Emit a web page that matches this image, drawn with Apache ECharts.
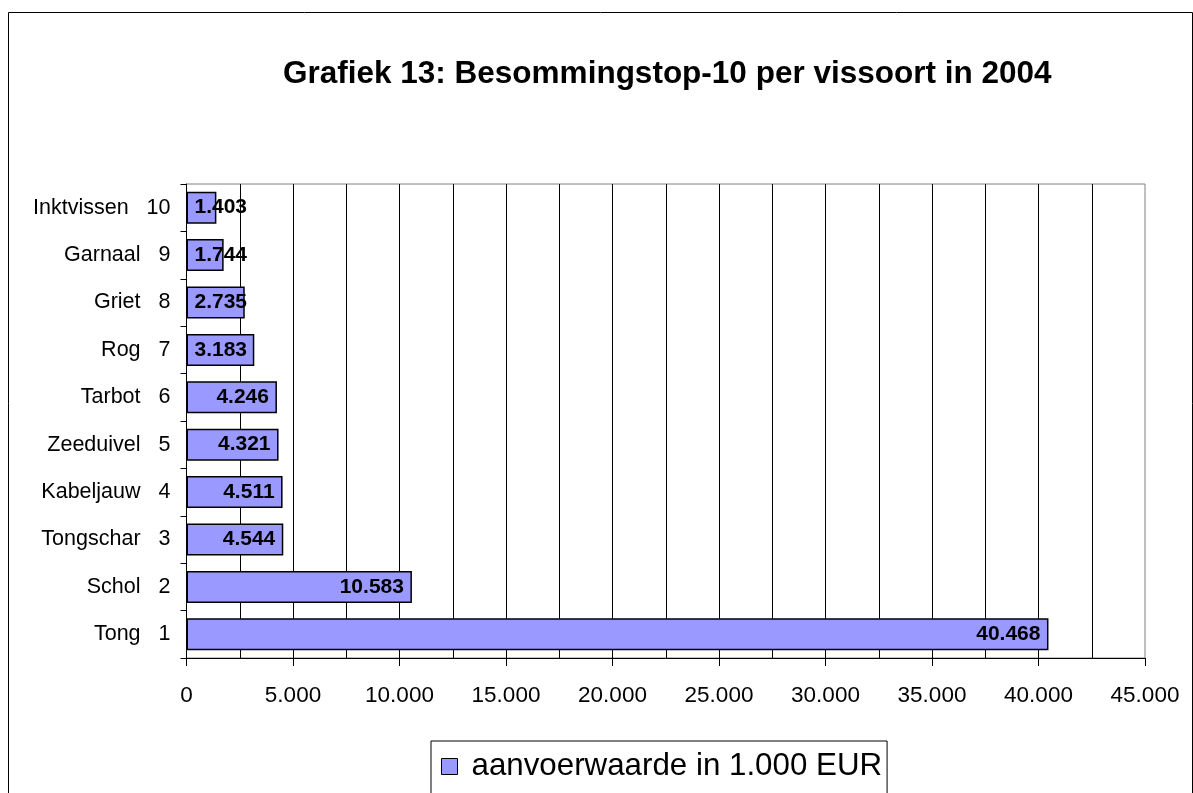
<!DOCTYPE html>
<html>
<head>
<meta charset="utf-8">
<script src="https://cdn.jsdelivr.net/npm/echarts@6/dist/echarts.min.js"></script>
<style>
  html, body { margin: 0; padding: 0; background: #fff; }
  #chart { width: 1193px; height: 793px; }
</style>
</head>
<body>
<div id="chart"></div>
<script>
// rang 1 onderaan, 10 bovenaan
const vissoorten = ['Tong', 'Schol', 'Tongschar', 'Kabeljauw', 'Zeeduivel', 'Tarbot', 'Rog', 'Griet', 'Garnaal', 'Inktvissen']
const rangen = ['1', '2', '3', '4', '5', '6', '7', '8', '9', '10']
const aanvoerwaarde = [40468, 10583, 4544, 4511, 4321, 4246, 3183, 2735, 1744, 1403]

const FONT = "'Liberation Sans', Arial, sans-serif"

// 40468 -> 40.468
function fmt(v) {
  return String(v).replace(/\B(?=(\d{3})+(?!\d))/g, '.')
}

let chart = echarts.init(document.getElementById('chart'), null, { renderer: 'canvas' })

let option = {
  animation: false,
  backgroundColor: '#fff',
  textStyle: { fontFamily: FONT },
  title: {
    text: 'Grafiek 13: Besommingstop-10 per vissoort in 2004',
    left: 278,
    top: 53,
    textStyle: { fontFamily: FONT, fontSize: 31.5, fontWeight: 'bold', color: '#000' }
  },
  graphic: [{
    type: 'rect',
    shape: { x: 8.5, y: 12.5, width: 1184, height: 820 },
    style: { fill: 'none', stroke: '#000', lineWidth: 1 },
    silent: true
  }],
  legend: {
    left: 431,
    top: 741,
    data: ['aanvoerwaarde in 1.000 EUR'],
    icon: 'rect',
    itemWidth: 16,
    itemHeight: 16,
    itemStyle: { borderColor: '#000', borderWidth: 1 },
    padding: [10, 5, 30, 10],
    borderColor: '#000',
    borderWidth: 1,
    textStyle: { fontFamily: FONT, fontSize: 31.3, color: '#000', padding: [0, 0, 0, 9] }
  },
  grid: {
    left: 186.5,
    top: 184,
    right: 48,
    bottom: 135,
    show: true,
    borderColor: '#808080',
    borderWidth: 1
  },
  xAxis: {
    type: 'value',
    min: 0,
    max: 45000,
    interval: 5000,
    axisLine: { show: true, lineStyle: { color: '#000', width: 1 } },
    axisTick: { show: true, length: 8, lineStyle: { color: '#000' } },
    axisLabel: {
      margin: 26,
      fontSize: 22.5,
      color: '#000',
      fontFamily: FONT,
      formatter: v => fmt(v)
    },
    splitLine: { show: true, showMaxLine: false, lineStyle: { color: '#000', width: 1 } },
    minorTick: { show: false, splitNumber: 2 },
    minorSplitLine: { show: true, lineStyle: { color: '#000', width: 1 } }
  },
  yAxis: {
    type: 'category',
    data: vissoorten,
    axisLine: { show: true, lineStyle: { color: '#000', width: 1 } },
    axisTick: { show: true, length: 6, lineStyle: { color: '#000' } },
    axisLabel: {
      margin: 16,
      color: '#000',
      fontFamily: FONT,
      fontSize: 21.5,
      // naam + rang als één rechts uitgelijnde tekst
      formatter: (v, i) => '{n|' + v + '}{r|' + rangen[i] + '}',
      rich: {
        n: { fontSize: 21.5, fontFamily: FONT, color: '#000' },
        r: { padding: [0, 0, 0, 18], fontSize: 21.5, fontFamily: FONT, color: '#000' }
      }
    },
    splitLine: { show: false }
  },
  series: [{
    name: 'aanvoerwaarde in 1.000 EUR',
    type: 'bar',
    barWidth: 32,
    itemStyle: { color: '#9999FF', borderColor: '#000', borderWidth: 1.5 },
    data: aanvoerwaarde.map(v => ({
      value: v,
      // korte balken: label links beginnen, zoals in het origineel
      label: { position: v < 3500 ? 'insideLeft' : 'insideRight' }
    })),
    label: {
      show: true,
      distance: 8,
      fontFamily: FONT,
      fontSize: 21,
      fontWeight: 'bold',
      color: '#000',
      formatter: p => fmt(p.value)
    }
  }]
}

chart.setOption(option)
</script>
</body>
</html>
